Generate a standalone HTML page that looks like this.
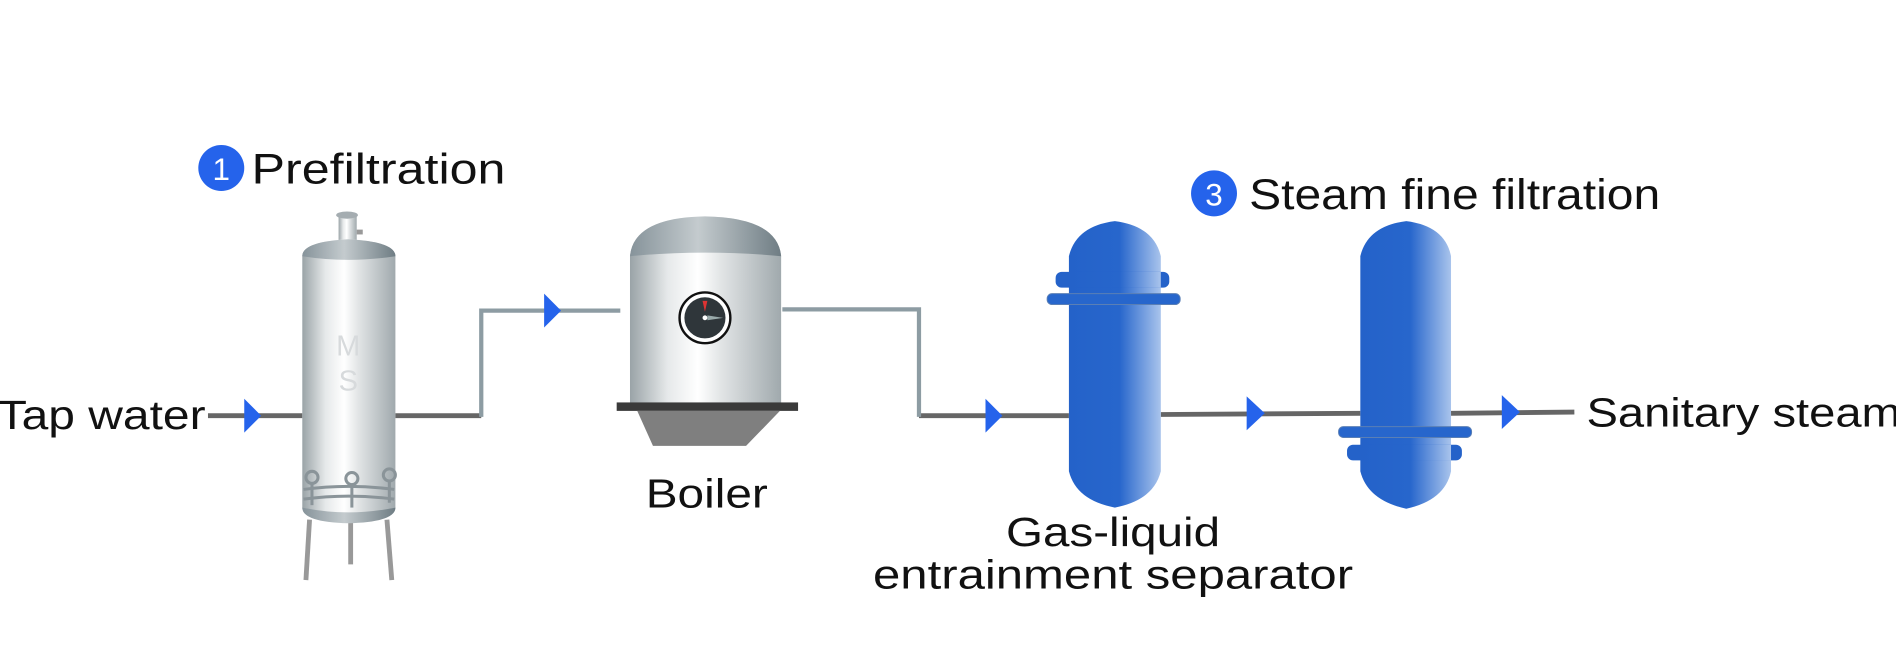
<!DOCTYPE html>
<html><head><meta charset="utf-8"><style>
html,body{margin:0;padding:0;background:#fff;}
svg{display:block;}
text{font-family:"Liberation Sans",sans-serif;fill:#111;}
</style></head><body>
<svg width="1896" height="655" viewBox="0 0 1568 542" preserveAspectRatio="none" xmlns="http://www.w3.org/2000/svg">
<defs>
<linearGradient id="steel" x1="0" x2="1" y1="0" y2="0">
<stop offset="0" stop-color="#9aa3a7"/><stop offset="0.25" stop-color="#e6e9ea"/><stop offset="0.45" stop-color="#ffffff"/><stop offset="0.6" stop-color="#e2e5e6"/><stop offset="1" stop-color="#a0a9ad"/>
</linearGradient>
<linearGradient id="dome" x1="0" x2="1" y1="0" y2="0">
<stop offset="0" stop-color="#86939a"/><stop offset="0.45" stop-color="#c4cbce"/><stop offset="1" stop-color="#6f7d84"/>
</linearGradient>
<linearGradient id="blue" x1="0" x2="1" y1="0" y2="0">
<stop offset="0" stop-color="#2462c9"/><stop offset="0.55" stop-color="#2766cc"/><stop offset="1" stop-color="#a9c4ec"/>
</linearGradient>
</defs>

<g stroke="#666" stroke-width="4" fill="none">
<line x1="172" y1="344" x2="250" y2="344"/>
<line x1="327" y1="344" x2="398" y2="344"/>
<line x1="760" y1="344" x2="884" y2="344"/>
<line x1="960" y1="343" x2="1125" y2="342"/>
<line x1="1200" y1="342" x2="1302" y2="341"/>
</g>
<g stroke="#8d9ca3" stroke-width="3.5" fill="none">
<polyline points="398,345 398,257 513,257"/>
<polyline points="647,256 760,256 760,345"/>
</g>
<g fill="#2563eb">
<polygon points="202,330 216,344 202,358"/>
<polygon points="450,243 464,257 450,271"/>
<polygon points="815,330 829,344 815,358"/>
<polygon points="1031,328 1046,342 1031,356"/>
<polygon points="1242,327 1257,341 1242,355"/>
</g>

<g>
<line x1="256" y1="430" x2="253" y2="480" stroke="#999" stroke-width="4"/>
<line x1="290" y1="430" x2="290" y2="467" stroke="#999" stroke-width="4"/>
<line x1="320" y1="430" x2="324" y2="480" stroke="#999" stroke-width="4"/>
<rect x="280" y="178" width="15" height="28" fill="url(#steel)"/>
<ellipse cx="287" cy="178" rx="9" ry="3" fill="#a5adb1"/>
<rect x="295" y="190" width="5" height="4" fill="#999"/>
<path d="M250,212 Q250,200 288,198 Q327,200 327,212 L327,420 Q327,432 288,432 Q250,432 250,420 Z" fill="url(#steel)"/>
<path d="M250,212 Q250,200 288,198 Q327,200 327,212 Q288,218 250,212 Z" fill="url(#dome)"/>
<path d="M250,420 Q288,428 327,420 Q327,432 288,433 Q250,432 250,420 Z" fill="url(#dome)"/>
<text x="288" y="294" font-size="24" text-anchor="middle" style="fill:#d7dadc">M</text>
<text x="288" y="323" font-size="24" text-anchor="middle" style="fill:#d7dadc">S</text>
<g stroke="#8a9499" stroke-width="2.5" fill="none">
<path d="M251,405 Q288,400 326,405"/><path d="M251,413 Q288,408 326,413"/>
<circle cx="258" cy="395" r="5"/><circle cx="291" cy="396" r="5"/><circle cx="322" cy="393" r="5"/>
<line x1="258" y1="400" x2="258" y2="418"/><line x1="291" y1="401" x2="291" y2="420"/><line x1="322" y1="398" x2="322" y2="416"/>
</g>
</g>

<g>
<path d="M521,212 Q524,180 583,179 Q643,180 646,212 L646,334 L521,334 Z" fill="url(#steel)"/>
<path d="M521,212 Q524,180 583,179 Q643,180 646,212 Q583,206 521,212 Z" fill="url(#dome)"/>
<rect x="510" y="333" width="150" height="7" fill="#3a3a3a"/>
<polygon points="527,340 645,340 617,369 540,369" fill="#7f7f7f"/>
<circle cx="583" cy="263" r="21" fill="#fff" stroke="#111" stroke-width="2"/>
<circle cx="583" cy="263" r="17" fill="#2f363a"/>
<polygon points="581,249 585,249 583,258" fill="#d33"/>
<polygon points="585,261 598,263 585,265" fill="#9aa"/>
<circle cx="583" cy="263" r="2" fill="#fff"/>
</g>

<g>
<path d="M884,212 Q890,187 922,183 Q954,187 960,212 L960,390 Q954,414 922,420 Q890,414 884,390 Z" fill="url(#blue)"/>
<rect x="873" y="225" width="94" height="13" rx="5" fill="#2462c9"/>
<rect x="884" y="225" width="76" height="13" fill="url(#blue)"/>
<rect x="866" y="243" width="110" height="9" rx="4" fill="#2766cc" stroke="#5a7fb5" stroke-width="0.8"/>
</g>
<g>
<path d="M1125,212 Q1131,187 1163,183 Q1195,187 1200,212 L1200,390 Q1195,414 1163,421 Q1131,414 1125,390 Z" fill="url(#blue)"/>
<rect x="1107" y="353" width="110" height="9" rx="4" fill="#2766cc" stroke="#5a7fb5" stroke-width="0.8"/>
<rect x="1114" y="368" width="95" height="13" rx="5" fill="#2462c9"/>
<rect x="1125" y="368" width="75" height="13" fill="url(#blue)"/>
</g>

<circle cx="183" cy="139" r="19" fill="#2563eb"/>
<text x="183" y="149" font-size="26" text-anchor="middle" style="fill:#fff">1</text>
<text x="208" y="152" font-size="35" textLength="210" lengthAdjust="spacingAndGlyphs">Prefiltration</text>
<circle cx="1004" cy="160" r="19" fill="#2563eb"/>
<text x="1004" y="170" font-size="26" text-anchor="middle" style="fill:#fff">3</text>
<text x="1033" y="173" font-size="35" textLength="340" lengthAdjust="spacingAndGlyphs">Steam fine filtration</text>
<text x="-2" y="355" font-size="34" textLength="172" lengthAdjust="spacingAndGlyphs">Tap water</text>
<text x="1312" y="353" font-size="34" textLength="260" lengthAdjust="spacingAndGlyphs">Sanitary steam</text>
<text x="534" y="420" font-size="34" textLength="101" lengthAdjust="spacingAndGlyphs">Boiler</text>
<text x="832" y="452" font-size="34" textLength="177" lengthAdjust="spacingAndGlyphs">Gas-liquid</text>
<text x="722" y="487" font-size="34" textLength="397" lengthAdjust="spacingAndGlyphs">entrainment separator</text>
</svg>
</body></html>
